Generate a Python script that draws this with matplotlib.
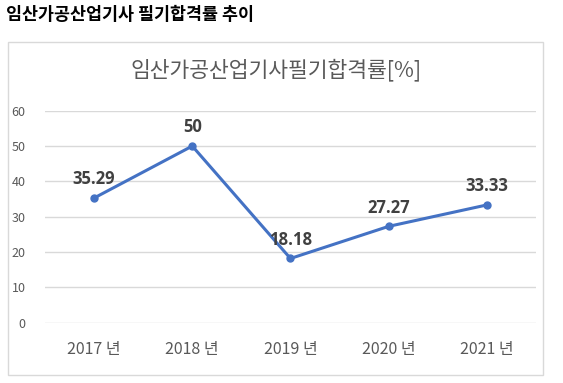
import matplotlib.pyplot as plt
from matplotlib.patches import Rectangle

plt.rcParams['font.family'] = ['Noto Sans CJK KR', 'DejaVu Sans']

# 데이터
years = ['2017 년', '2018 년', '2019 년', '2020 년', '2021 년']
rates = [35.29, 50, 18.18, 27.27, 33.33]
rate_labels = ['35.29', '50', '18.18', '27.27', '33.33']
y_ticks = [0, 10, 20, 30, 40, 50, 60]

fig = plt.figure(figsize=(5.63, 3.83), dpi=100)
ax = fig.add_axes([0.0799, 0.1574, 0.872, 0.5535])

# 차트 영역 테두리
fig.patches.append(Rectangle((8 / 563, 1 - 375 / 383), 535 / 563, 333 / 383,
                             transform=fig.transFigure, fill=False,
                             edgecolor='#d9d9d9', linewidth=1))

x = range(len(years))
ax.plot(x, rates, color='#4472C4', linewidth=2.2, marker='o', markersize=5)
for i, (v, t) in enumerate(zip(rates, rate_labels)):
    ax.annotate(t, (i, v), xytext=(0, 7), textcoords='offset points',
                ha='center', va='bottom', fontsize=12, fontweight='bold',
                family=['Open Sans', 'DejaVu Sans'], color='#404040')

ax.set_xlim(-0.5, len(years) - 0.5)
ax.set_ylim(0, 60)
ax.set_yticks(y_ticks)
ax.set_xticks(list(x))
ax.set_xticklabels(years)
ax.grid(axis='y', color='#d9d9d9', linewidth=1)
ax.set_axisbelow(True)
for s in ax.spines.values():
    s.set_visible(False)
ax.tick_params(axis='both', length=0, colors='#595959')
ax.tick_params(axis='y', labelsize=9, pad=14)
ax.tick_params(axis='x', labelsize=11.5, pad=13)

fig.text(276 / 563, 1 - 70 / 383, '임산가공산업기사필기합격률[%]', ha='center',
         va='center', fontsize=15.5, color='#595959')
fig.text(6 / 563, 1 - 15 / 383, '임산가공산업기사 필기합격률 추이', ha='left',
         va='center', fontsize=12.5, fontweight='bold', color='black')

fig.savefig('out.png', dpi=100)
